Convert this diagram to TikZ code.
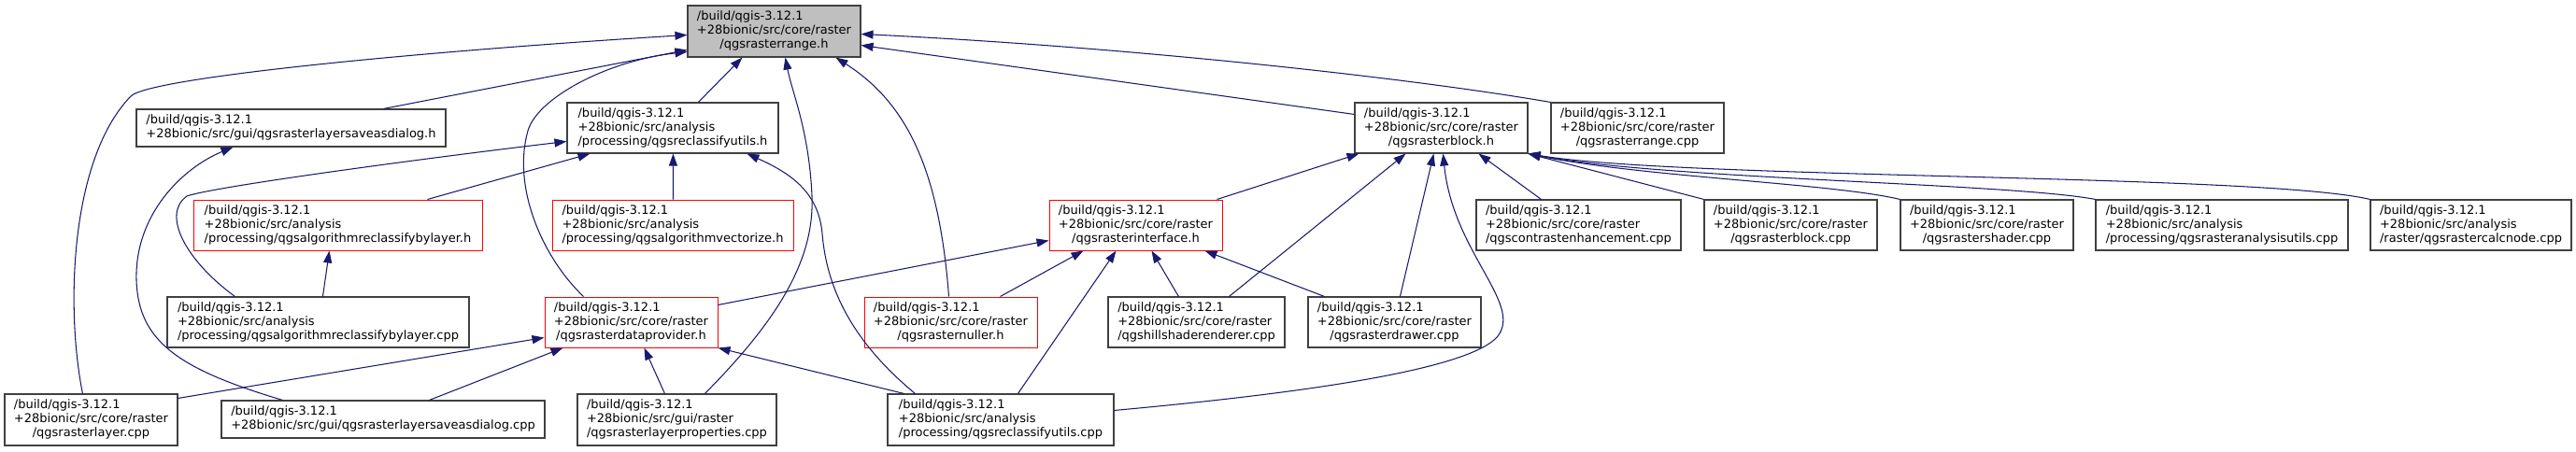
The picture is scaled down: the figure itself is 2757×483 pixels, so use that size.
\documentclass[tikz,border=0pt]{standalone}
\usepackage{fontspec}
\setmainfont{DejaVu Sans}
\usetikzlibrary{arrows.meta,calc}
\definecolor{edgeblue}{HTML}{191970}
\definecolor{boxgrey}{HTML}{404040}
\definecolor{topfill}{HTML}{BFBFBF}
\newcommand{\lblthree}[3]{\begin{tabular}{@{}l@{}}#1\\#2\\\multicolumn{1}{@{}c@{}}{#3}\end{tabular}}
\newcommand{\lbltwo}[2]{\begin{tabular}{@{}l@{}}#1\\\multicolumn{1}{@{}c@{}}{#2}\end{tabular}}
\newcommand{\qpre}{/build/qgis-3.12.1}
\newcommand{\qcr}{+28bionic/src/core/raster}
\newcommand{\qan}{+28bionic/src/analysis}
\begin{document}
\begin{tikzpicture}[x=1pt,y=-1pt,
 file/.style={draw=boxgrey,line width=1.1pt,fill=white,inner sep=0pt,minimum height=54pt,font=\fontsize{13}{15}\selectfont},
 trunc/.style={file,draw=red,line width=1pt},
 focus/.style={file,fill=topfill},
 edge/.style={draw=edgeblue,line width=1.05pt,-{Triangle[length=13pt,width=9pt]}}]
\fill[white] (0,0) rectangle (2757,483);
\useasboundingbox (0,0) rectangle (2757,483);
% row 0
\node[focus,minimum width=185pt,minimum height=55pt] (A) at (828.5,33.5) {\lblthree{\qpre}{\qcr}{/qgsrasterrange.h}};
% row 1
\node[file,minimum width=331pt,minimum height=40pt] (B) at (311.5,137) {\lbltwo{\qpre}{+28bionic/src/gui/qgsrasterlayersaveasdialog.h}};
\node[file,minimum width=226pt] (C) at (720,137) {\lblthree{\qpre}{\qan}{/processing/qgsreclassifyutils.h}};
\node[file,minimum width=185pt] (D) at (1542.5,137) {\lblthree{\qpre}{\qcr}{/qgsrasterblock.h}};
\node[file,minimum width=185pt] (E) at (1752.5,137) {\lblthree{\qpre}{\qcr}{/qgsrasterrange.cpp}};
% row 2
\node[trunc,minimum width=309pt] (F) at (361.5,241) {\lblthree{\qpre}{\qan}{/processing/qgsalgorithmreclassifybylayer.h}};
\node[trunc,minimum width=258pt] (G) at (720,241) {\lblthree{\qpre}{\qan}{/processing/qgsalgorithmvectorize.h}};
\node[trunc,minimum width=185pt] (H) at (1215.5,241) {\lblthree{\qpre}{\qcr}{/qgsrasterinterface.h}};
\node[file,minimum width=219pt] (I) at (1689.5,241) {\lblthree{\qpre}{\qcr}{/qgscontrastenhancement.cpp}};
\node[file,minimum width=185pt] (J) at (1916.5,241) {\lblthree{\qpre}{\qcr}{/qgsrasterblock.cpp}};
\node[file,minimum width=185pt] (K) at (2126.5,241) {\lblthree{\qpre}{\qcr}{/qgsrastershader.cpp}};
\node[file,minimum width=270pt] (L) at (2378,241) {\lblthree{\qpre}{\qan}{/processing/qgsrasteranalysisutils.cpp}};
\node[file,minimum width=215pt] (M) at (2644.5,241) {\lblthree{\qpre}{\qan}{/raster/qgsrastercalcnode.cpp}};
% row 3
\node[file,minimum width=323pt] (N) at (340.5,345) {\lblthree{\qpre}{\qan}{/processing/qgsalgorithmreclassifybylayer.cpp}};
\node[trunc,minimum width=185pt] (O) at (675.5,345) {\lblthree{\qpre}{\qcr}{/qgsrasterdataprovider.h}};
\node[trunc,minimum width=185pt] (P) at (1017.5,345) {\lblthree{\qpre}{\qcr}{/qgsrasternuller.h}};
\node[file,minimum width=189pt] (Q) at (1280.5,345) {\lblthree{\qpre}{\qcr}{/qgshillshaderenderer.cpp}};
\node[file,minimum width=185pt] (R) at (1492.5,345) {\lblthree{\qpre}{\qcr}{/qgsrasterdrawer.cpp}};
% row 4
\node[file,minimum width=185pt,minimum height=55pt] (S) at (97.5,449.5) {\lblthree{\qpre}{\qcr}{/qgsrasterlayer.cpp}};
\node[file,minimum width=346pt,minimum height=40pt] (T) at (410,449) {\lbltwo{\qpre}{+28bionic/src/gui/qgsrasterlayersaveasdialog.cpp}};
\node[file,minimum width=213pt,minimum height=55pt] (U) at (724.5,449.5) {\lblthree{\qpre}{+28bionic/src/gui/raster}{/qgsrasterlayerproperties.cpp}};
\node[file,minimum width=242pt,minimum height=55pt] (V) at (1071,449.5) {\lblthree{\qpre}{\qan}{/processing/qgsreclassifyutils.cpp}};
% edges into A
\draw[edge] ($(S.north west)+(84,0)$) .. controls (70,330) and (75,170) .. (140,103) .. controls (160,83) and (450,55) .. ($(A.north west)+(0,32)$);
\draw[edge] ($(B.north west)+(265,0)$) -- ($(A.north west)+(0,48)$);
\draw[edge] ($(O.north west)+(42,0)$) .. controls (580,275) and (548,200) .. (565,140) .. controls (575,105) and (650,65) .. ($(A.north west)+(0,50)$);
\draw[edge] ($(C.north west)+(141,0)$) -- ($(A.south west)+(59,0)$);
\draw[edge] ($(U.north west)+(137,0)$) .. controls (830,345) and (872,280) .. (869,210) .. controls (866,140) and (848,100) .. ($(A.south west)+(105,0)$);
\draw[edge] ($(P.north west)+(91,0)$) .. controls (1005,180) and (970,110) .. ($(A.south west)+(159,0)$);
\draw[edge] ($(D.north west)+(0,13)$) -- ($(A.north east)+(0,43)$);
\draw[edge] (E.north west) .. controls (1500,82) and (1200,50) .. ($(A.north east)+(0,31)$);
% edges into C
\draw[edge] ($(F.north west)+(251,0)$) -- ($(C.south west)+(25,0)$);
\draw[edge] ($(N.north west)+(73,0)$) .. controls (200,280) and (172,230) .. (200,210) .. controls (228,200) and (450,170) .. ($(C.north west)+(0,42)$);
\draw[edge] ($(G.north west)+(130,0)$) -- ($(C.south west)+(114,0)$);
\draw[edge] ($(V.north west)+(30,0)$) .. controls (905,360) and (884,300) .. (880,250) .. controls (876,205) and (845,185) .. ($(C.south west)+(193,0)$);
% into F and B
\draw[edge] ($(N.north west)+(167,0)$) -- ($(F.south west)+(146,0)$);
\draw[edge] ($(T.north west)+(66,0)$) .. controls (190,395) and (148,365) .. (146,300) .. controls (144,230) and (195,180) .. ($(B.south west)+(104,0)$);
% edges into D
\draw[edge] ($(H.north west)+(180,0)$) -- ($(D.south west)+(5,0)$);
\draw[edge] ($(Q.north west)+(130,0)$) -- ($(D.south west)+(55,0)$);
\draw[edge] ($(R.north west)+(99,0)$) -- ($(D.south west)+(85,0)$);
\draw[edge] ($(V.north east)+(0,18)$) .. controls (1350,425) and (1570,400) .. (1603,360) .. controls (1630,325) and (1555,270) .. ($(D.south west)+(95,0)$);
\draw[edge] ($(I.north west)+(70,0)$) -- ($(D.south west)+(133,0)$);
\draw[edge] (J.north west) -- (D.south east);
\draw[edge] (K.north west) .. controls (1960,196) and (1760,190) .. (D.south east);
\draw[edge] (L.north west) .. controls (2150,196) and (1780,192) .. (D.south east);
\draw[edge] (M.north west) .. controls (2420,186) and (1800,192) .. (D.south east);
% edges into H
\draw[edge] ($(O.north east)+(0,9)$) -- ($(H.north west)+(0,44)$);
\draw[edge] ($(P.north west)+(146,0)$) -- ($(H.south west)+(37,0)$);
\draw[edge] ($(V.north west)+(140,0)$) -- ($(H.south west)+(72,0)$);
\draw[edge] ($(Q.north west)+(76,0)$) -- ($(H.south west)+(110,0)$);
\draw[edge] ($(R.north west)+(18,0)$) -- ($(H.south west)+(167,0)$);
% edges into O
\draw[edge] ($(S.north east)+(0,5)$) -- ($(O.north west)+(0,44)$);
\draw[edge] ($(T.north west)+(223,0)$) -- ($(O.south west)+(20,0)$);
\draw[edge] ($(U.north west)+(94,0)$) -- ($(O.south west)+(107,0)$);
\draw[edge] ($(V.north west)+(18,0)$) -- (O.south east);
\end{tikzpicture}
\end{document}
